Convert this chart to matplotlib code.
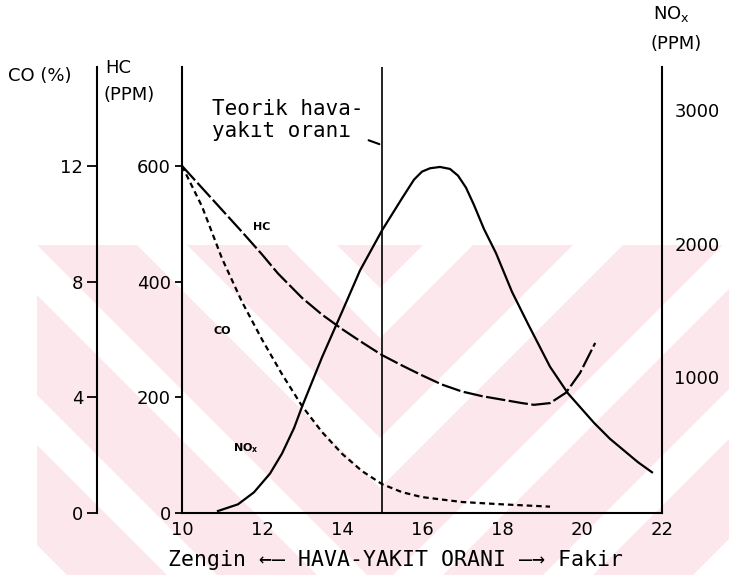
import matplotlib
matplotlib.use("Agg")
import matplotlib.pyplot as plt
from matplotlib.patches import Polygon

plt.rcParams['font.family'] = ['DejaVu Sans']
plt.rcParams['lines.scale_dashes'] = False

# --- data ---
# air-fuel ratio on x, HC in ppm, CO in %, NOx in ppm
x_hc = [10.0, 10.5, 11.0, 11.5, 12.0, 12.4, 13.0, 13.5, 14.0, 14.5, 15.0, 15.5,
        16.0, 16.5, 17.0, 17.5, 18.0, 18.5, 18.8, 19.2, 19.6, 19.95, 20.33]
hc = [600, 562, 524, 486, 447, 414, 372, 343, 318, 295, 273, 255,
      238, 222, 210, 202, 196, 190, 187, 190, 208, 242, 294]

x_co = [10.0, 10.5, 11.0, 11.5, 12.0, 12.5, 13.0, 13.5, 14.0, 14.5, 15.0, 15.5,
        16.0, 17.0, 18.0, 19.2]
co = [12.0, 10.6, 8.8, 7.3, 6.0, 4.8, 3.7, 2.8, 2.05, 1.45, 1.0, 0.72,
      0.55, 0.38, 0.3, 0.22]

x_nox = [10.9, 11.4, 11.8, 12.2, 12.5, 12.8, 13.0, 13.5, 14.0, 14.45, 15.0, 15.5,
         15.8, 16.0, 16.2, 16.45, 16.7, 16.9, 17.1, 17.3, 17.55, 17.85, 18.25,
         18.65, 19.2, 19.65, 20.3, 20.7, 21.1, 21.4, 21.75]
nox = [0, 50, 140, 280, 430, 620, 780, 1150, 1490, 1800, 2100, 2340,
       2480, 2540, 2565, 2575, 2560, 2510, 2420, 2290, 2110, 1930, 1640,
       1400, 1080, 880, 660, 540, 440, 365, 290]

stoich = 15.0  # "Teorik hava-yakit orani" line

x_ticks = [10, 12, 14, 16, 18, 20, 22]
hc_ticks = [0, 200, 400, 600]
co_ticks = [0, 4, 8, 12]
nox_ticks = [1000, 2000, 3000]

mono = 'DejaVu Sans Mono'

fig = plt.figure(figsize=(7.29, 5.75), dpi=100)

# faint pink chevron watermark of the scanned page (pixel coords),
# one clipping axes per half so each half keeps its own stripe direction
xc, top, bot = 380, 245, 575
pink = '#fce8ec'
for x0, x1, mirror in [(37, xc, False), (xc, 729, True)]:
    bg = fig.add_axes([x0 / 729, 0, (x1 - x0) / 729, (bot - top) / 575], zorder=-5)
    bg.set_xlim(x0, x1)
    bg.set_ylim(bot, top)
    bg.axis('off')
    for k in range(-3, 7):
        a, b = k * 150 - 208, k * 150 - 108
        pts = [(top - 10 + a, top - 10), (bot + 10 + a, bot + 10),
               (bot + 10 + b, bot + 10), (top - 10 + b, top - 10)]
        if mirror:
            pts = [(2 * xc - px, py) for px, py in pts]
        bg.add_patch(Polygon(pts, closed=True, color=pink, lw=0))

ax = fig.add_axes([182 / 729, 62 / 575, 480 / 729, 446 / 575])
ax.patch.set_alpha(0)
ax_co = ax.twinx()
ax_nox = ax.twinx()

lw = 1.6
ax.plot(x_hc, hc, color='black', lw=lw, dashes=(14, 2.5))
ax_co.plot(x_co, co, color='black', lw=lw, dashes=(4, 2.8))
ax_nox.plot(x_nox, nox, color='black', lw=lw)
ax.axvline(stoich, color='black', lw=1.2)

ax.set_xlim(10, 22)
ax.set_ylim(0, 771)
ax_co.set_ylim(0, 771 / 50)
ax_nox.set_ylim(-15, 3323)

# main axis (HC)
for s in ['top', 'right']:
    ax.spines[s].set_visible(False)
ax.spines['left'].set_linewidth(1.5)
ax.spines['bottom'].set_linewidth(1.5)
ax.set_xticks(x_ticks)
ax.set_xticklabels([str(t) for t in x_ticks], fontsize=13)
ax.tick_params(axis='x', length=0, pad=6)
ax.set_yticks(hc_ticks)
ax.set_yticklabels([str(t) for t in hc_ticks], fontsize=13)
ax.tick_params(axis='y', length=5, width=1.3, pad=3)

# CO axis on far left
for s in ['top', 'right', 'bottom']:
    ax_co.spines[s].set_visible(False)
ax_co.spines['left'].set_visible(True)
ax_co.spines['left'].set_position(('axes', -85 / 480))
ax_co.spines['left'].set_linewidth(1.5)
ax_co.yaxis.tick_left()
ax_co.set_yticks(co_ticks)
ax_co.set_yticklabels([str(t) for t in co_ticks], fontsize=13)
ax_co.tick_params(axis='y', length=7, width=1.3, pad=3)

# NOx axis on right
for s in ['top', 'left', 'bottom']:
    ax_nox.spines[s].set_visible(False)
ax_nox.spines['right'].set_linewidth(1.5)
ax_nox.set_yticks(nox_ticks)
ax_nox.set_yticklabels([str(t) for t in nox_ticks], fontsize=13)
ax_nox.tick_params(axis='y', length=0, pad=9)

# curve labels
ax.text(12.0, 495, 'HC', fontsize=8, fontweight='bold', ha='center', va='center')
ax_co.text(11.0, 6.3, 'CO', fontsize=8, fontweight='bold', ha='center', va='center')
ax_nox.text(11.6, 470, 'NO$_\\mathregular{x}$', fontsize=8, fontweight='bold',
            ha='center', va='center')

# theoretical ratio note
ax.text(10.75, 716, 'Teorik hava-\nyakıt oranı', fontsize=15, family=mono,
        ha='left', va='top', linespacing=1.15)
ax.annotate('', xy=(stoich, 636), xytext=(14.6, 646),
            arrowprops=dict(arrowstyle='-', lw=1.5, color='black'))

# axis titles
fig.text(8 / 729, 1 - 76 / 575, 'CO (%)', fontsize=13, ha='left', va='center')
fig.text(105 / 729, 1 - 68 / 575, 'HC', fontsize=13, ha='left', va='center')
fig.text(103 / 729, 1 - 95 / 575, '(PPM)', fontsize=13, ha='left', va='center')
fig.text(653 / 729, 1 - 14 / 575, 'NO$_\\mathregular{x}$', fontsize=13, ha='left', va='center')
fig.text(650 / 729, 1 - 44 / 575, '(PPM)', fontsize=13, ha='left', va='center')

fig.text(396 / 729, 1 - 560 / 575, 'Zengin ←— HAVA-YAKIT ORANI —→ Fakir',
         fontsize=15.5, family=[mono, 'DejaVu Sans'], ha='center', va='center')

fig.savefig('out.png', dpi=100)
